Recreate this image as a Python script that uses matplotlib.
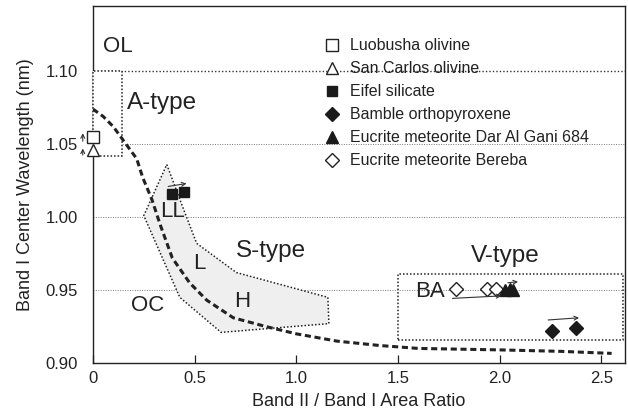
import numpy as np
import matplotlib
matplotlib.use('Agg')
import matplotlib.pyplot as plt
from matplotlib.patches import Rectangle, Polygon

plt.rcParams['font.family'] = ['Liberation Sans', 'DejaVu Sans']

# ── data ──────────────────────────────────────────────────────────────────────
curve_x = [0.0, 0.05, 0.10, 0.147, 0.215, 0.245, 0.29, 0.33, 0.39, 0.475,
           0.56, 0.69, 0.85, 1.0, 1.2, 1.41, 1.6, 2.0, 2.3, 2.55]
curve_y = [1.074, 1.069, 1.062, 1.053, 1.040, 1.027, 1.012, 0.995, 0.972,
           0.955, 0.943, 0.931, 0.925, 0.920, 0.915, 0.912, 0.910, 0.909,
           0.908, 0.9066]

stype_x = [0.363, 0.46, 0.51, 0.705, 1.155, 1.16, 0.63, 0.427, 0.25]
stype_y = [1.036, 1.000, 0.982, 0.962, 0.945, 0.927, 0.921, 0.945, 1.001]

atype_box = (0.0, 1.042, 0.144, 1.10)     # x0, y0, x1, y1
vtype_box = (1.50, 0.9157, 2.605, 0.961)

luobusha_x, luobusha_y = [0.0], [1.055]
sancarlos_x, sancarlos_y = [0.0], [1.046]
eifel_x, eifel_y = [0.387, 0.446], [1.016, 1.017]
bamble_x, bamble_y = [2.255, 2.374], [0.922, 0.9238]
dag684_x, dag684_y = [2.025, 2.05, 2.064], [0.950, 0.9505, 0.950]
bereba_x, bereba_y = [1.783, 1.937, 1.98], [0.951, 0.951, 0.951]

# arrows: (x_start, y_start, x_end, y_end)
shift_arrows = [
    (-0.05, 1.052, -0.05, 1.0575),
    (-0.05, 1.0425, -0.05, 1.047),
    (0.37, 1.021, 0.46, 1.023),
    (2.238, 0.9295, 2.39, 0.931),
    (1.767, 0.9443, 2.008, 0.946),
    (2.04, 0.955, 2.09, 0.9557),
]

region_labels = [
    ('OL', 0.12, 1.1166, 16),
    ('A-type', 0.341, 1.078, 17.5),
    ('LL', 0.39, 1.0036, 16),
    ('L', 0.522, 0.968, 16),
    ('H', 0.735, 0.942, 16),
    ('S-type', 0.875, 0.977, 17.5),
    ('OC', 0.268, 0.9397, 16),
    ('BA', 1.655, 0.949, 16),
    ('V-type', 2.025, 0.973, 17.5),
]

xticks = [0, 0.5, 1.0, 1.5, 2.0, 2.5]
xtick_labels = ['0', '0.5', '1.0', '1.5', '2.0', '2.5']
yticks = [0.90, 0.95, 1.00, 1.05, 1.10]
ytick_labels = ['0.90', '0.95', '1.00', '1.05', '1.10']

# ── figure ────────────────────────────────────────────────────────────────────
fig = plt.figure(figsize=(6.28, 4.13), dpi=100)
ax = fig.add_axes([0.148, 0.121, 0.847, 0.864])
ax.set_xlim(0, 2.615)
ax.set_ylim(0.90, 1.1445)

# grid lines
for yv in [0.95, 1.00, 1.05]:
    ax.axhline(yv, color='#777777', lw=0.7, ls=(0, (1, 1.5)), zorder=1)
ax.axhline(1.10, color='#333333', lw=1.0, ls=(0, (1, 1.5)), zorder=1)

# S-type region
ax.add_patch(Polygon(np.column_stack([stype_x, stype_y]), closed=True,
                     facecolor='#efeff0', edgecolor='#222222', lw=1.1,
                     ls=(0, (1, 1.3)), zorder=2))

# A-type box (covers the spine, as in the original)
x0, y0, x1, y1 = atype_box
ax.add_patch(Rectangle((x0, y0), x1 - x0, y1 - y0, facecolor='white',
                       edgecolor='none', zorder=2.6, clip_on=False))
ax.add_patch(Rectangle((x0, y0), x1 - x0, y1 - y0, facecolor='none',
                       edgecolor='#222222', lw=1.1, ls=(0, (1, 1.3)),
                       zorder=2.7, clip_on=False))

# V-type box
x0, y0, x1, y1 = vtype_box
ax.add_patch(Rectangle((x0, y0), x1 - x0, y1 - y0, facecolor='none',
                       edgecolor='#222222', lw=1.1, ls=(0, (1, 1.3)),
                       zorder=2))

# dashed model curve
ax.plot(curve_x, curve_y, color='#222222', lw=2.2, ls=(0, (2.0, 1.2)),
        zorder=3)

# samples
h1, = ax.plot(luobusha_x, luobusha_y, 's', ms=8, mfc='white', mec='#222222',
              mew=1.0, ls='none', zorder=5, clip_on=False,
              label='Luobusha olivine')
h2, = ax.plot(sancarlos_x, sancarlos_y, '^', ms=9, mfc='white', mec='#222222',
              mew=1.0, ls='none', zorder=5, clip_on=False,
              label='San Carlos olivine')
h3, = ax.plot(eifel_x, eifel_y, 's', ms=7, mfc='#1a1a1a', mec='#1a1a1a',
              ls='none', zorder=5, label='Eifel silicate')
h4, = ax.plot(bamble_x, bamble_y, 'D', ms=7, mfc='#1a1a1a', mec='#1a1a1a',
              ls='none', zorder=5, label='Bamble orthopyroxene')
h5, = ax.plot(dag684_x, dag684_y, '^', ms=9, mfc='#1a1a1a', mec='#1a1a1a',
              ls='none', zorder=5, label='Eucrite meteorite Dar Al Gani 684')
h6, = ax.plot(bereba_x, bereba_y, 'D', ms=7, mfc='white', mec='#222222',
              mew=1.0, ls='none', zorder=4,
              label='Eucrite meteorite Bereba')

for xs, ys, xe, ye in shift_arrows:
    ax.annotate('', xy=(xe, ye), xytext=(xs, ys), annotation_clip=False,
                arrowprops=dict(arrowstyle='->', color='#333333', lw=0.8,
                                shrinkA=0, shrinkB=0,
                                mutation_scale=7), zorder=6)

for txt, tx, ty, fs in region_labels:
    ax.text(tx, ty, txt, fontsize=fs, color='#222222', ha='center',
            va='center', zorder=6)

leg = ax.legend(handles=[h1, h2, h3, h4, h5, h6], loc='upper left',
                bbox_to_anchor=(0.434, 0.91), frameon=False, fontsize=11.5,
                handlelength=1.0, handletextpad=0.62, labelspacing=0.5,
                borderpad=0, borderaxespad=0, numpoints=1)
for t in leg.get_texts():
    t.set_color('#222222')

ax.set_xticks(xticks)
ax.set_xticklabels(xtick_labels)
ax.set_yticks(yticks)
ax.set_yticklabels(ytick_labels)
ax.tick_params(axis='x', direction='in', length=6, width=0.9,
               labelsize=12, colors='#222222', pad=6)
ax.tick_params(axis='y', direction='in', length=0, labelsize=12,
               colors='#222222', pad=11)
for sp in ax.spines.values():
    sp.set_edgecolor('#222222')
    sp.set_linewidth(1.0)

ax.set_xlabel('Band II / Band I Area Ratio', fontsize=13, color='#222222',
              labelpad=5)
ax.set_ylabel('Band I Center Wavelength (nm)', fontsize=13,
              color='#222222', labelpad=8)

fig.savefig('out.png', dpi=100, facecolor='white')
plt.close(fig)
